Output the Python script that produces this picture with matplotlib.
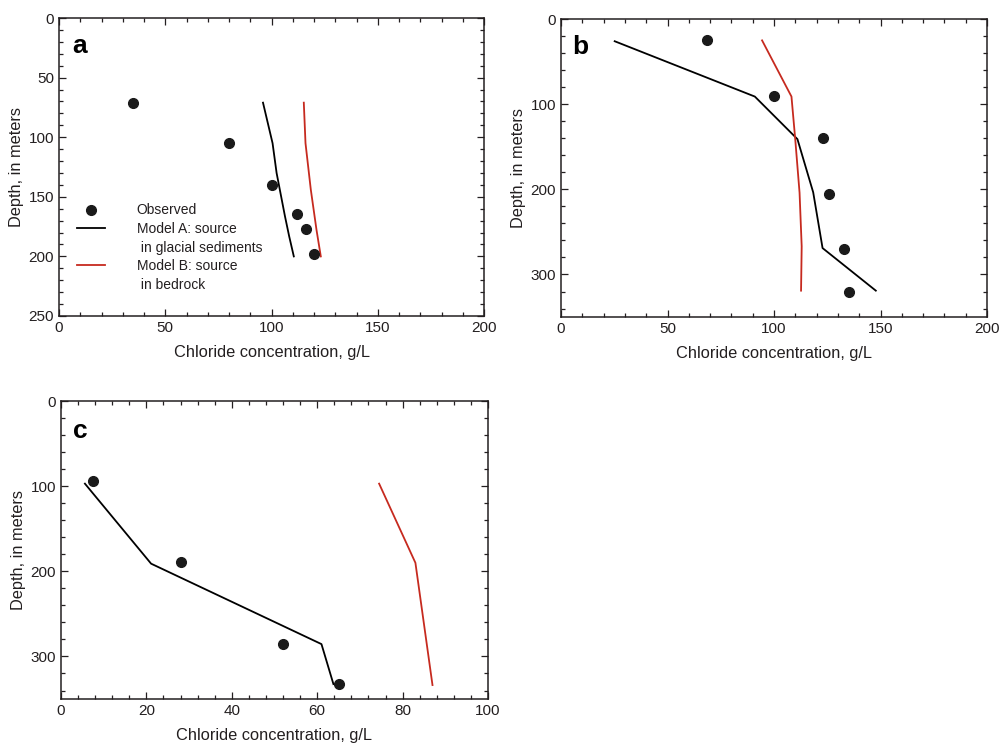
import matplotlib
matplotlib.use("Agg")
import matplotlib.pyplot as plt
from matplotlib.ticker import MultipleLocator
from matplotlib.lines import Line2D

plt.rcParams['font.family'] = ['Liberation Sans', 'DejaVu Sans']

RED = '#c62a1f'
INK = '#231f20'

# Panel a
a_obs_x = [35, 80, 100, 112, 116, 120]
a_obs_y = [71, 105, 140, 164, 177, 198]
a_modA_x = [96, 100.5, 102.4, 106.3, 108.3, 110.5]
a_modA_y = [71, 105, 130, 166, 183, 200]
a_modB_x = [115.2, 116, 118.5, 121.2, 123.2]
a_modB_y = [71, 105, 144, 178, 200]

# Panel b
b_obs_x = [68.5, 99.8, 122.8, 125.9, 133, 135]
b_obs_y = [24, 90, 140, 205, 270, 320]
b_modA_x = [25.2, 91, 111, 118.4, 122.8, 147.8]
b_modA_y = [26, 91, 141, 203.5, 269, 319]
b_modB_x = [94.4, 108.2, 110, 112, 113, 112.7]
b_modB_y = [25, 91, 142, 204, 267, 319]

# Panel c
c_obs_x = [7.5, 28, 52, 65]
c_obs_y = [94, 189, 285, 332]
c_modA_x = [5.6, 21.1, 61, 63.8]
c_modA_y = [97, 191, 285.5, 332.5]
c_modB_x = [74.5, 83, 87]
c_modB_y = [97, 190, 333.6]

panels = [
    dict(label='a', rect=[0.059, 0.5747, 0.425, 0.401], xlim=200, ylim=250,
         xmaj=50, xmin=10, ymaj=50, ymin=10, lpos=(0.031, 0.883),
         obs=(a_obs_x, a_obs_y), A=(a_modA_x, a_modA_y), B=(a_modB_x, a_modB_y)),
    dict(label='b', rect=[0.561, 0.5733, 0.426, 0.401], xlim=200, ylim=350,
         xmaj=50, xmin=10, ymaj=100, ymin=20, lpos=(0.026, 0.883),
         obs=(b_obs_x, b_obs_y), A=(b_modA_x, b_modA_y), B=(b_modB_x, b_modB_y)),
    dict(label='c', rect=[0.061, 0.0592, 0.427, 0.401], xlim=100, ylim=350,
         xmaj=20, xmin=4, ymaj=100, ymin=20, lpos=(0.029, 0.876),
         obs=(c_obs_x, c_obs_y), A=(c_modA_x, c_modA_y), B=(c_modB_x, c_modB_y)),
]

fig = plt.figure(figsize=(10, 7.43), dpi=100)

for p in panels:
    ax = fig.add_axes(p['rect'])
    ax.plot(*p['A'], color='black', lw=1.3)
    ax.plot(*p['B'], color=RED, lw=1.3)
    ax.plot(*p['obs'], 'o', color='#1a1a1a', ms=7, ls='none')
    ax.set_xlim(0, p['xlim'])
    ax.set_ylim(p['ylim'], 0)
    ax.xaxis.set_major_locator(MultipleLocator(p['xmaj']))
    ax.xaxis.set_minor_locator(MultipleLocator(p['xmin']))
    ax.yaxis.set_major_locator(MultipleLocator(p['ymaj']))
    ax.yaxis.set_minor_locator(MultipleLocator(p['ymin']))
    ax.tick_params(which='both', direction='in', top=True, right=True,
                   labelsize=11, colors=INK, width=0.9)
    ax.tick_params(which='major', length=5)
    ax.tick_params(which='minor', length=3)
    for s in ax.spines.values():
        s.set_linewidth(1.1)
        s.set_color(INK)
    ax.set_xlabel('Chloride concentration, g/L', fontsize=11.8, color=INK, labelpad=7)
    ax.set_ylabel('Depth, in meters', fontsize=11.8, color=INK, labelpad=3)
    ax.text(p['lpos'][0], p['lpos'][1], p['label'], transform=ax.transAxes,
            fontsize=19, fontweight='bold', va='baseline', ha='left', color='black')

    if p['label'] == 'a':
        blank = Line2D([], [], ls='none')
        handles = [
            Line2D([], [], marker='o', color='#1a1a1a', ls='none', ms=7),
            Line2D([], [], color='black', lw=1.3),
            blank,
            Line2D([], [], color=RED, lw=1.3),
            blank,
        ]
        labels = ['Observed', 'Model A: source', ' in glacial sediments',
                  'Model B: source', ' in bedrock']
        ax.legend(handles, labels, loc='upper left', bbox_to_anchor=(0.042, 0.378),
                  frameon=False, fontsize=10, handlelength=2.0, handletextpad=2.3,
                  labelspacing=0.33, borderaxespad=0, borderpad=0,
                  labelcolor=INK)

fig.savefig('out.png', dpi=100)
